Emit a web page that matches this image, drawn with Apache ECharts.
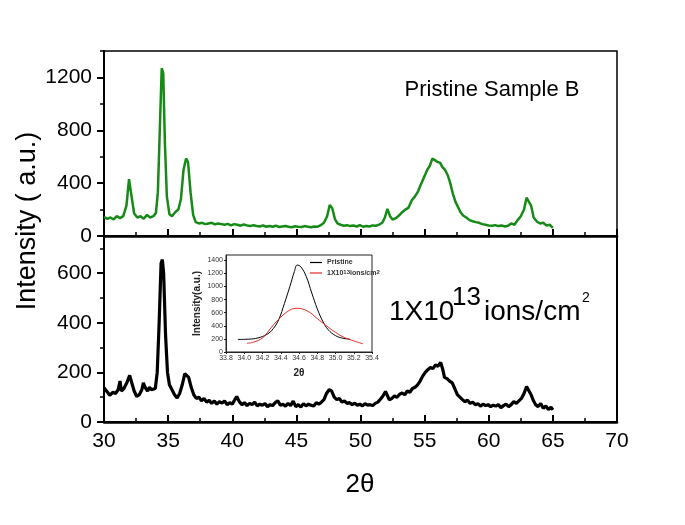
<!DOCTYPE html>
<html>
<head>
<meta charset="utf-8">
<script src="https://cdn.jsdelivr.net/npm/echarts@6/dist/echarts.min.js"></script>
<style>html,body{margin:0;padding:0;background:#fff}#c{width:685px;height:525px}</style>
</head>
<body>
<div id="c"></div>
<script>
// Main x-axis ticks
var xTicks = [30, 35, 40, 45, 50, 55, 60, 65, 70];

// Pristine Sample B (top panel) [2θ, intensity]
var pristinePattern = [
[30.0,145],[30.25,130],[30.5,140],[30.75,125],[31.0,150],[31.25,135],[31.5,150],[31.75,230],[31.95,430],[32.15,300],[32.35,170],[32.6,140],[32.85,150],[33.1,130],[33.35,160],[33.6,140],[33.85,150],[34.05,175],[34.2,330],[34.35,800],[34.5,1270],[34.62,1230],[34.75,700],[34.9,300],[35.1,165],[35.3,150],[35.55,180],[35.8,200],[36.0,280],[36.2,500],[36.4,587],[36.55,560],[36.75,330],[36.95,160],[37.15,105],[37.4,95],[37.65,100],[37.9,90],[38.15,95],[38.4,100],[38.65,88],[38.9,95],[39.15,90],[39.4,85],[39.65,92],[39.9,80],[40.15,90],[40.4,85],[40.65,78],[40.9,88],[41.15,80],[41.4,75],[41.65,82],[41.9,76],[42.15,72],[42.4,80],[42.65,70],[42.9,76],[43.15,70],[43.4,78],[43.65,68],[43.9,72],[44.15,76],[44.4,70],[44.65,66],[44.9,74],[45.15,70],[45.4,68],[45.65,75],[45.9,70],[46.15,66],[46.4,72],[46.65,70],[46.9,82],[47.15,100],[47.4,150],[47.6,235],[47.8,210],[48.0,130],[48.2,95],[48.45,85],[48.7,78],[48.95,82],[49.2,75],[49.45,80],[49.7,72],[49.95,82],[50.2,70],[50.45,75],[50.7,72],[50.95,80],[51.2,78],[51.45,86],[51.7,100],[51.9,140],[52.1,205],[52.3,150],[52.5,125],[52.75,135],[53.0,155],[53.25,180],[53.5,200],[53.75,215],[54.0,270],[54.25,300],[54.5,340],[54.75,400],[55.0,455],[55.2,500],[55.4,530],[55.6,585],[55.8,575],[56.0,560],[56.2,555],[56.4,520],[56.6,500],[56.8,460],[57.0,400],[57.2,320],[57.4,260],[57.6,220],[57.8,180],[58.0,155],[58.25,140],[58.5,120],[58.75,112],[59.0,105],[59.25,100],[59.5,90],[59.75,85],[60.0,80],[60.25,78],[60.5,82],[60.75,75],[61.0,80],[61.25,72],[61.5,78],[61.75,95],[62.0,85],[62.25,120],[62.5,150],[62.75,200],[62.95,290],[63.1,300],[63.3,230],[63.5,140],[63.75,110],[64.0,95],[64.25,100],[64.5,80],[64.75,85],[65.0,62]
];

// 1X10^13 ions/cm^2 (bottom panel) [2θ, intensity]
var irradiatedPattern = [
[30.0,138],[30.2,125],[30.45,108],[30.7,120],[30.9,115],[31.1,130],[31.25,165],[31.35,125],[31.55,135],[31.8,160],[32.0,188],[32.15,180],[32.35,125],[32.55,103],[32.75,110],[32.95,130],[33.07,158],[33.2,140],[33.4,125],[33.55,140],[33.7,130],[33.85,125],[34.0,135],[34.15,200],[34.3,400],[34.45,640],[34.55,655],[34.65,600],[34.8,350],[34.95,200],[35.1,150],[35.3,130],[35.5,110],[35.7,97],[35.9,115],[36.1,150],[36.3,195],[36.45,199],[36.6,180],[36.8,140],[37.0,110],[37.2,95],[37.4,100],[37.6,85],[37.8,95],[38.0,80],[38.2,88],[38.4,75],[38.6,85],[38.8,72],[39.0,82],[39.2,76],[39.4,85],[39.6,70],[39.8,78],[40.0,72],[40.2,90],[40.35,103],[40.55,82],[40.75,70],[40.95,78],[41.15,66],[41.35,75],[41.55,70],[41.75,80],[41.95,65],[42.15,72],[42.35,68],[42.55,74],[42.75,62],[42.95,70],[43.15,66],[43.35,78],[43.55,85],[43.75,68],[43.95,72],[44.15,64],[44.35,75],[44.55,66],[44.75,84],[44.95,62],[45.15,70],[45.35,60],[45.55,74],[45.75,65],[45.95,72],[46.15,68],[46.35,64],[46.55,78],[46.75,72],[46.95,80],[47.15,90],[47.35,115],[47.55,130],[47.75,125],[47.95,100],[48.15,90],[48.35,95],[48.55,80],[48.75,85],[48.95,75],[49.15,78],[49.35,70],[49.55,76],[49.75,68],[49.95,72],[50.15,65],[50.35,74],[50.55,68],[50.75,70],[50.95,66],[51.15,75],[51.35,80],[51.55,92],[51.75,105],[51.95,123],[52.1,115],[52.25,89],[52.45,95],[52.65,105],[52.85,100],[53.05,112],[53.25,117],[53.45,110],[53.65,125],[53.85,120],[54.05,135],[54.25,140],[54.45,150],[54.65,165],[54.85,185],[55.05,200],[55.25,211],[55.45,220],[55.65,215],[55.85,230],[56.05,225],[56.25,240],[56.4,215],[56.55,180],[56.75,175],[56.95,165],[57.15,158],[57.35,135],[57.55,110],[57.75,100],[57.95,90],[58.15,82],[58.35,88],[58.55,75],[58.75,80],[58.95,70],[59.15,74],[59.35,64],[59.55,72],[59.75,66],[59.95,70],[60.15,62],[60.35,68],[60.55,64],[60.75,70],[60.95,58],[61.15,66],[61.35,72],[61.55,62],[61.75,70],[61.95,82],[62.15,75],[62.35,85],[62.55,95],[62.75,115],[62.95,143],[63.1,140],[63.3,110],[63.45,90],[63.65,70],[63.85,62],[64.05,75],[64.25,55],[64.45,65],[64.65,50],[64.85,60],[65.0,49]
];

// Inset: fitted (002) peak
var insetPristine = [
[33.93,192],[34.05,196],[34.15,215],[34.25,270],[34.32,360],[34.38,500],[34.44,740],[34.5,1000],[34.55,1230],[34.58,1327],[34.62,1300],[34.68,1150],[34.74,900],[34.8,660],[34.86,470],[34.92,340],[35.0,250],[35.08,210],[35.16,196]
];
var insetIrradiated = [
[34.03,133],[34.1,150],[34.2,215],[34.3,380],[34.4,530],[34.5,640],[34.58,667],[34.7,620],[34.8,510],[34.9,400],[35.0,300],[35.1,220],[35.2,170],[35.3,125]
];

var FONT = 'Liberation Sans, Arial, sans-serif';
var chart = echarts.init(document.getElementById('c'));

function yMain(grid, max, interval) {
  return {
    type: 'value', gridIndex: grid, min: 0, max: max, interval: interval, position: 'left',
    axisLine: { show: true, lineStyle: { color: '#000', width: 2 } },
    axisTick: { show: true, inside: false, length: 7, lineStyle: { color: '#000', width: 2 } },
    axisLabel: { show: true, showMaxLabel: false, margin: 12, fontSize: 21, fontFamily: FONT, color: '#000',
      formatter: function (v) { return String(v); } },
    splitLine: { show: false }
  };
}
function yMinor(grid, max, interval) {
  return {
    type: 'value', gridIndex: grid, min: 0, max: max, interval: interval, position: 'left', offset: 0,
    axisLine: { show: false },
    axisTick: { show: true, inside: false, length: 4, lineStyle: { color: '#000', width: 1.5 } },
    axisLabel: { show: false },
    splitLine: { show: false }
  };
}
function xMain(grid, showLabels) {
  return {
    type: 'value', gridIndex: grid, min: xTicks[0], max: xTicks[xTicks.length - 1], interval: 5,
    axisLine: { show: true, onZero: false, lineStyle: { color: '#000', width: 2.5 } },
    axisTick: { show: true, inside: true, length: 7, lineStyle: { color: '#000', width: 2 } },
    minorTick: { show: true, splitNumber: 2, length: 4, lineStyle: { color: '#000', width: 1.5 } },
    axisLabel: { show: showLabels, margin: 9, fontSize: 21, fontFamily: FONT, color: '#000' },
    splitLine: { show: false }
  };
}

var option = {
  animation: false,
  backgroundColor: '#fff',
  grid: [
    { left: 104, top: 51, width: 513, height: 185, show: true, borderColor: '#000', borderWidth: 1.5, backgroundColor: 'transparent' },
    { left: 104, top: 236, width: 513, height: 186, show: true, borderColor: '#000', borderWidth: 2, backgroundColor: 'transparent' },
    { left: 226, top: 255, width: 146, height: 97, show: true, borderColor: '#222', borderWidth: 1, backgroundColor: '#fff' }
  ],
  xAxis: [
    xMain(0, false),
    xMain(1, true),
    {
      type: 'value', gridIndex: 2, min: 33.8, max: 35.4, interval: 0.2,
      axisLine: { show: true, onZero: false, lineStyle: { color: '#222', width: 1 } },
      axisTick: { show: true, inside: false, length: 2, lineStyle: { color: '#222' } },
      axisLabel: { fontSize: 7, fontFamily: FONT, color: '#333', margin: 3, formatter: function (v) { return v.toFixed(1); } },
      name: '2θ', nameLocation: 'middle', nameGap: 16,
      nameTextStyle: { fontSize: 10, fontFamily: FONT, color: '#222', fontWeight: 'bold' },
      splitLine: { show: false }
    }
  ],
  yAxis: [
    yMain(0, 1400, 400),
    yMain(1, 750, 200),
    yMinor(0, 1400, 200),
    yMinor(1, 750, 100),
    {
      type: 'value', gridIndex: 2, min: 0, max: 1480, interval: 200,
      axisLine: { show: true, lineStyle: { color: '#222', width: 1 } },
      axisTick: { show: true, inside: false, length: 2, lineStyle: { color: '#222' } },
      axisLabel: { showMaxLabel: false, fontSize: 7, fontFamily: FONT, color: '#333', margin: 3,
        formatter: function (v) { return String(v); } },
      name: 'Intensity(a.u.)', nameLocation: 'middle', nameGap: 24, nameRotate: 90,
      nameTextStyle: { fontSize: 10, fontFamily: FONT, color: '#222', fontWeight: 'bold' },
      splitLine: { show: false }
    }
  ],
  legend: {
    data: ['Pristine', 'irr'],
    orient: 'vertical', left: 305, top: 254, itemGap: 3,
    itemWidth: 12, itemHeight: 1.2, icon: 'rect',
    textStyle: { fontSize: 7, fontFamily: FONT, color: '#333', fontWeight: 'bold',
      rich: { s: { fontSize: 6, verticalAlign: 'top', lineHeight: 8, fontFamily: FONT, color: '#333' } } },
    formatter: function (n) { return n === 'irr' ? '1X10{s|13}ions/cm{s|2}' : 'Pristine'; }
  },
  series: [
    { name: 'pristineMain', type: 'line', xAxisIndex: 0, yAxisIndex: 0, data: pristinePattern, showSymbol: false,
      lineStyle: { color: '#168a16', width: 2.5 }, itemStyle: { color: '#168a16' } },
    { name: 'irrMain', type: 'line', xAxisIndex: 1, yAxisIndex: 1, data: irradiatedPattern, showSymbol: false,
      lineStyle: { color: '#000', width: 3.2 }, itemStyle: { color: '#000' } },
    { name: 'Pristine', type: 'line', xAxisIndex: 2, yAxisIndex: 4, data: insetPristine, showSymbol: false, smooth: 0.4,
      lineStyle: { color: '#000', width: 1 }, itemStyle: { color: '#000' }, z: 5 },
    { name: 'irr', type: 'line', xAxisIndex: 2, yAxisIndex: 4, data: insetIrradiated, showSymbol: false, smooth: 0.4,
      lineStyle: { color: '#e52b25', width: 1 }, itemStyle: { color: '#e52b25' }, z: 5 }
  ],
  graphic: [
    { type: 'text', x: 28, y: 221, rotation: Math.PI / 2,
      style: { text: 'Intensity ( a.u.)', font: '27px ' + FONT, fill: '#000', align: 'center', verticalAlign: 'middle' } },
    { type: 'text', x: 360, y: 485,
      style: { text: '2θ', font: '26px ' + FONT, fill: '#000', align: 'center', verticalAlign: 'middle' } },
    { type: 'text', x: 492, y: 90,
      style: { text: 'Pristine Sample B', font: '22px ' + FONT, fill: '#000', align: 'center', verticalAlign: 'middle' } },
    { type: 'text', x: 389, y: 298,
      style: { text: '1X10', font: '28px ' + FONT, fill: '#000', align: 'left', verticalAlign: 'alphabetic' } },
    { type: 'text', x: 452, y: 285,
      style: { text: '13', font: '26px ' + FONT, fill: '#000', align: 'left', verticalAlign: 'alphabetic' } },
    { type: 'text', x: 484, y: 298,
      style: { text: 'ions/cm', font: '28px ' + FONT, fill: '#000', align: 'left', verticalAlign: 'alphabetic' } },
    { type: 'text', x: 582, y: 291,
      style: { text: '2', font: '14px ' + FONT, fill: '#000', align: 'left', verticalAlign: 'alphabetic' } }
  ]
};
chart.setOption(option);
</script>
</body>
</html>
